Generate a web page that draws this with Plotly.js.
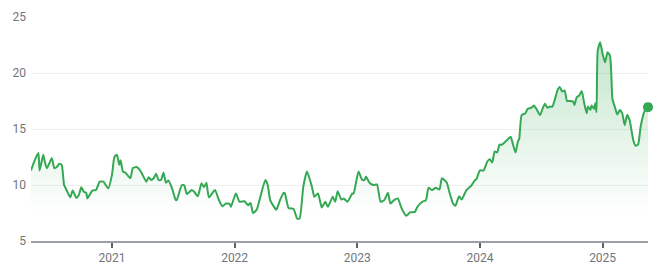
<!DOCTYPE html>
<html>
<head>
<meta charset="utf-8">
<script src="https://cdn.plot.ly/plotly-3.0.1.min.js"></script>
<style>
html,body{margin:0;padding:0;background:#fff;}
#chart{width:664px;height:278px;}
</style>
</head>
<body>
<div id="chart"></div>
<script>
// time in decimal years
const times = [
2020.34,2020.37,2020.40,2020.41,2020.44,2020.45,2020.47,2020.51,2020.53,2020.55,
2020.57,2020.59,2020.61,2020.63,2020.66,2020.68,2020.71,2020.73,2020.75,2020.77,
2020.79,2020.80,2020.84,2020.87,2020.90,2020.93,2020.97,2021.00,2021.02,2021.04,
2021.06,2021.07,2021.09,2021.11,2021.15,2021.17,2021.20,2021.23,2021.25,2021.28,
2021.30,2021.32,2021.34,2021.36,2021.38,2021.40,2021.42,2021.44,2021.46,2021.49,
2021.52,2021.53,2021.57,2021.59,2021.61,2021.65,2021.67,2021.70,2021.73,2021.75,
2021.77,2021.79,2021.84,2021.87,2021.90,2021.93,2021.96,2021.97,2022.01,2022.04,
2022.08,2022.11,2022.13,2022.15,2022.18,2022.21,2022.25,2022.27,2022.29,2022.34,
2022.37,2022.40,2022.41,2022.44,2022.48,2022.51,2022.53,2022.56,2022.59,2022.63,
2022.65,2022.68,2022.71,2022.74,2022.76,2022.80,2022.82,2022.84,2022.87,2022.89,
2022.92,2022.96,2022.97,2023.01,2023.04,2023.06,2023.07,2023.10,2023.13,2023.16,
2023.19,2023.22,2023.25,2023.27,2023.30,2023.33,2023.36,2023.40,2023.43,2023.47,
2023.49,2023.53,2023.56,2023.58,2023.61,2023.64,2023.67,2023.69,2023.73,2023.75,
2023.78,2023.80,2023.83,2023.85,2023.89,2023.93,2023.96,2023.97,2024.00,2024.03,
2024.06,2024.08,2024.10,2024.12,2024.14,2024.16,2024.18,2024.20,2024.22,2024.25,
2024.27,2024.29,2024.31,2024.32,2024.34,2024.37,2024.39,2024.42,2024.44,2024.46,
2024.49,2024.51,2024.53,2024.55,2024.57,2024.59,2024.62,2024.63,2024.65,2024.67,
2024.69,2024.71,2024.73,2024.76,2024.77,2024.79,2024.81,2024.83,2024.85,2024.87,
2024.88,2024.90,2024.91,2024.93,2024.94,2024.95,2024.96,2024.98,2025.00,2025.02,
2025.04,2025.06,2025.07,2025.08,2025.10,2025.12,2025.14,2025.16,2025.18,2025.20,
2025.22,2025.25,2025.27,2025.29,2025.31,2025.34,2025.37
];
const prices = [
11.3,12.2,12.85,11.3,12.7,12.2,11.5,12.4,11.5,11.6,
11.9,11.8,10.0,9.55,8.9,9.5,8.85,9.1,9.8,9.4,
9.3,8.8,9.5,9.55,10.3,10.3,9.7,10.9,12.5,12.7,
11.8,12.2,11.2,11.1,10.6,11.5,11.6,11.3,10.9,10.3,
10.7,10.45,10.6,11.0,10.45,10.45,11.1,10.2,10.4,9.7,
8.65,8.7,10.0,9.95,9.2,9.55,9.4,9.0,10.15,9.8,
10.2,8.9,9.55,8.7,8.1,8.35,8.3,8.05,9.25,8.5,
8.55,8.2,8.4,7.5,7.8,8.95,10.45,10.0,8.65,7.8,
8.65,9.3,9.25,7.95,7.85,7.0,7.0,9.85,11.2,9.85,
8.95,9.25,8.0,8.5,8.05,8.95,8.5,9.45,8.7,8.8,
8.5,9.25,9.25,11.2,10.45,10.45,10.75,10.2,10.0,10.05,
8.5,8.65,9.3,8.35,8.65,8.8,7.95,7.25,7.55,7.6,
8.05,8.5,8.65,9.75,9.55,9.75,9.6,10.6,10.2,9.4,
8.35,8.15,9.0,8.7,9.55,9.95,10.45,10.5,11.3,11.3,
12.1,12.3,12.0,13.0,12.9,13.6,13.6,13.8,14.0,14.3,
13.6,12.9,13.9,14.1,16.25,16.4,16.8,16.9,17.1,16.8,
16.25,16.8,17.25,16.9,17.0,17.0,18.0,18.4,18.75,18.35,
18.45,17.5,17.5,17.45,17.15,17.85,18.0,18.4,17.3,16.4,
17.0,16.7,17.1,16.8,17.3,16.5,22.0,22.75,21.7,20.95,
21.85,21.55,20.1,17.7,16.95,16.3,16.7,16.4,15.35,16.25,
15.8,14.0,13.5,13.65,15.2,16.55,16.95
];
const yTicks = [5, 10, 15, 20, 25];
const xTickVals = [2021, 2022, 2023, 2024, 2025];
const xTickText = ['2021', '2022', '2023', '2024', '2025'];

const green = '#34a853';
const lastT = times[times.length - 1];
const lastP = prices[prices.length - 1];

const traces = [
  {
    x: times, y: prices, type: 'scatter', mode: 'lines',
    line: {color: green, width: 2, shape: 'spline', smoothing: 0.5},
    fill: 'tozeroy',
    fillgradient: {
      type: 'vertical', start: 7.5, stop: 23,
      colorscale: [[0, 'rgba(52,168,83,0)'], [1, 'rgba(52,168,83,0.30)']]
    },
    hoverinfo: 'skip'
  },
  {
    x: [lastT], y: [lastP], type: 'scatter', mode: 'markers',
    marker: {color: green, size: 10},
    cliponaxis: false, hoverinfo: 'skip'
  }
];

const layout = {
  width: 664, height: 278,
  margin: {l: 31, r: 16, t: 17, b: 37},
  paper_bgcolor: '#ffffff', plot_bgcolor: '#ffffff',
  showlegend: false,
  font: {family: 'Roboto, Arial, sans-serif', size: 12, color: '#70757a'},
  xaxis: {
    range: [times[0], lastT],
    tickvals: xTickVals, ticktext: xTickText,
    showgrid: false, zeroline: false,
    showline: true, linecolor: '#9aa0a6', linewidth: 1.5,
    ticks: 'outside', ticklen: 5, tickwidth: 2, tickcolor: '#5f6368',
    tickfont: {size: 12, color: '#70757a'}
  },
  yaxis: {
    range: [5, 25],
    tickvals: yTicks,
    showgrid: true, gridcolor: '#efefef', gridwidth: 1,
    zeroline: false, showline: false, ticks: '',
    ticklabelstandoff: 4,
    tickfont: {size: 12, color: '#70757a'}
  }
};

Plotly.newPlot('chart', traces, layout, {staticPlot: true, displayModeBar: false});
</script>
</body>
</html>
